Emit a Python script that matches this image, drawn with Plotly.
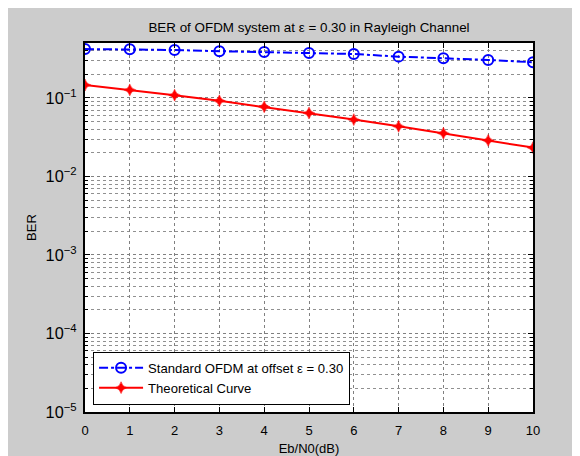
import plotly.graph_objects as go

ebn0_db = [0, 1, 2, 3, 4, 5, 6, 7, 8, 9, 10]
ber_ofdm = [0.420, 0.418, 0.408, 0.394, 0.386, 0.374, 0.363, 0.336, 0.321, 0.305, 0.285]
ber_theory = [0.146, 0.1267, 0.1085, 0.092, 0.0771, 0.0642, 0.053, 0.0435, 0.0355, 0.0288, 0.0233]
x_ticks = list(range(0, 11))

FONT = "Liberation Sans, Arial, sans-serif"

fig = go.Figure()
fig.add_trace(go.Scatter(
    x=ebn0_db, y=ber_ofdm, mode="lines+markers",
    name="Standard OFDM at offset \u03b5 = 0.30",
    line=dict(color="#0000ff", width=2, dash="dashdot"),
    marker=dict(symbol="circle-open", size=10, color="#0000ff", line=dict(width=2, color="#0000ff")),
))
fig.add_trace(go.Scatter(
    x=ebn0_db, y=ber_theory, mode="lines+markers",
    name="Theoretical Curve",
    line=dict(color="#ff0000", width=2),
    marker=dict(symbol="star-diamond", size=8.5, color="#ff0000", line=dict(width=0.5, color="#ff0000")),
))

W, H = 572, 448
L, R, T, B = 77, 47, 35, 44
fig.update_layout(
    width=W, height=H,
    margin=dict(l=L, r=R, t=T, b=B, autoexpand=False),
    paper_bgcolor="#cccccc",
    plot_bgcolor="#ffffff",
    font=dict(family=FONT, size=13, color="#000000"),
    title=dict(text="BER of OFDM system at \u03b5 = 0.30 in Rayleigh Channel",
               x=0.5, xanchor="center", xref="paper", y=1 - 19 / H, yanchor="middle",
               font=dict(size=13.4, family=FONT)),
    showlegend=True,
    legend=dict(x=0.018, y=0.02, xanchor="left", yanchor="bottom",
                bgcolor="#ffffff", bordercolor="#000000", borderwidth=1,
                itemwidth=44,
                font=dict(size=13.1, family=FONT), tracegroupgap=0),
    xaxis=dict(
        range=[0, 10], tickvals=x_ticks, ticktext=[str(v) for v in x_ticks],
        showline=True, linecolor="#000000", linewidth=1.5, mirror="ticks",
        ticks="inside", ticklen=5, tickcolor="#000000",
        showgrid=True, gridcolor="#808080", griddash="dot", gridwidth=1,
        zeroline=False, automargin=False, ticklabelstandoff=6,
        title=dict(text="Eb/N0(dB)", standoff=8, font=dict(size=13)),
        tickfont=dict(size=13),
    ),
    yaxis=dict(
        type="log", range=[-5, -0.30], dtick=1,
        exponentformat="power",
        showline=True, linecolor="#000000", linewidth=1.5, mirror="ticks",
        ticks="inside", ticklen=5, tickcolor="#000000",
        showgrid=True, gridcolor="#808080", griddash="dot", gridwidth=1,
        minor=dict(dtick="D1", showgrid=True, gridcolor="#909090", griddash="dot",
                   ticks="inside", ticklen=3, tickcolor="#000000"),
        zeroline=False, automargin=False, ticklabelstandoff=4,
        title=dict(text="BER", standoff=6, font=dict(size=13)),
        tickfont=dict(size=13),
    ),
)

fig.write_html("out.html")
